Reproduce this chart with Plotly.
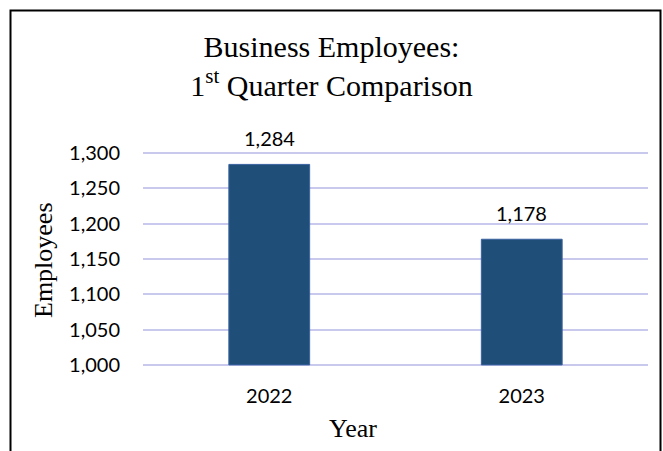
import plotly.graph_objects as go

# Data
years = ["2022", "2023"]
employees = [1284, 1178]
baseline = 1000
y_ticks = [1000, 1050, 1100, 1150, 1200, 1250, 1300]
y_tick_text = ["1,000", "1,050", "1,100", "1,150", "1,200", "1,250", "1,300"]

W, H = 663, 451
L, R, T, B = 143, 15, 151, 84
pw, ph = W - L - R, H - T - B


def px_x(x):
    return (x - L) / pw


def px_y(y):
    return (H - B - y) / ph


bar_color = "#1F4E79"
grid_color = "#C9C9EE"
serif = "Liberation Serif, Times New Roman, serif"
sans = "Lato, Calibri, sans-serif"

fig = go.Figure()
# Bars rise from the 1,000 baseline up to each value
fig.add_trace(go.Bar(
    x=years,
    y=[v - baseline for v in employees],
    base=baseline,
    width=0.32,
    marker=dict(color=bar_color, line=dict(color="#3A62A0", width=1)),
    hoverinfo="skip",
    cliponaxis=False,
))

# Value labels above the bars (category index positions)
for i, val in enumerate(employees):
    fig.add_annotation(
        x=i, y=val, xref="x", yref="y",
        text=f"{val:,}", showarrow=False,
        yanchor="bottom", yshift=12,
        font=dict(family=sans, size=20, color="#000000"),
    )

# Axis titles
fig.add_annotation(
    x=px_x(353), y=px_y(428), xref="paper", yref="paper",
    text="Year", showarrow=False, xanchor="center", yanchor="middle",
    font=dict(family=serif, size=26, color="#000000"),
)
fig.add_annotation(
    x=px_x(43), y=px_y(260), xref="paper", yref="paper",
    text="Employees", showarrow=False, textangle=-90,
    xanchor="center", yanchor="middle",
    font=dict(family=serif, size=26, color="#000000"),
)

# Chart frame
fig.add_shape(
    type="rect", xref="paper", yref="paper",
    x0=px_x(10.5), x1=px_x(660.5), y0=px_y(470), y1=px_y(10.5),
    line=dict(color="#000000", width=2), fillcolor="rgba(0,0,0,0)",
    layer="above",
)

fig.update_layout(
    width=W, height=H,
    margin=dict(l=L, r=R, t=T, b=B, pad=0),
    paper_bgcolor="#FFFFFF",
    plot_bgcolor="#FFFFFF",
    showlegend=False,
    title=dict(
        text="Business Employees:<br>1<sup>st</sup> Quarter Comparison",
        x=0.5, xref="container", xanchor="center",
        y=1 - 57 / H, yref="container", yanchor="middle",
        font=dict(family=serif, size=30, color="#000000"),
    ),
    xaxis=dict(
        type="category",
        range=[-0.5, 1.5],
        showgrid=False, showline=False, zeroline=False,
        ticks="", ticklabelstandoff=15,
        tickfont=dict(family=sans, size=20, color="#000000"),
    ),
    yaxis=dict(
        range=[997, 1303],
        tickvals=y_ticks, ticktext=y_tick_text,
        showgrid=True, gridcolor=grid_color, gridwidth=1.5,
        showline=False, zeroline=False, ticks="",
        ticklabelstandoff=22,
        tickfont=dict(family=sans, size=20, color="#000000"),
    ),
)

fig.write_html("out.html")
